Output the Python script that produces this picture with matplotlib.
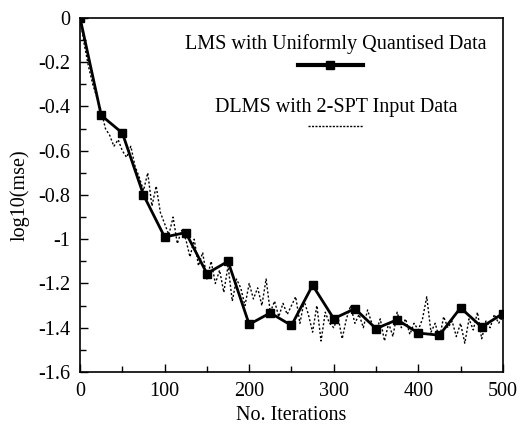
import matplotlib
matplotlib.use("Agg")
import matplotlib.pyplot as plt
from matplotlib.lines import Line2D
import numpy as np

plt.rcParams['font.family'] = ['Liberation Serif', 'DejaVu Serif']
plt.rcParams['font.size'] = 14

# LMS with uniformly quantised data (square markers)
lms_x = [0, 25, 50, 75, 100, 125, 150, 175, 200, 225, 250, 275, 300,
         325, 350, 375, 400, 425, 450, 475, 500]
lms_y = [0.0, -0.44, -0.52, -0.80, -0.99, -0.97, -1.155, -1.10, -1.385, -1.333,
         -1.39, -1.208, -1.359, -1.314, -1.404, -1.364, -1.424, -1.434, -1.31,
         -1.397, -1.336]

# DLMS with 2-SPT input data (noisy dotted)
dlms_x = list(range(0, 501, 5))
dlms_y = [0.0, -0.12, -0.22, -0.30, -0.36, -0.42, -0.50, -0.53, -0.58, -0.55,
          -0.60, -0.63, -0.58, -0.67, -0.72, -0.78, -0.70, -0.85, -0.76, -0.88,
          -0.93, -0.98, -0.90, -1.02, -0.96, -1.00, -1.08, -1.00, -1.12, -1.06,
          -1.18, -1.10, -1.20, -1.14, -1.24, -1.12, -1.28, -1.18, -1.22, -1.30,
          -1.20, -1.27, -1.22, -1.30, -1.18, -1.33, -1.28, -1.35, -1.29, -1.34,
          -1.30, -1.26, -1.38, -1.28, -1.34, -1.42, -1.30, -1.46, -1.33, -1.38,
          -1.40, -1.35, -1.45, -1.36, -1.30, -1.38, -1.34, -1.40, -1.32, -1.38,
          -1.42, -1.36, -1.46, -1.38, -1.44, -1.33, -1.40, -1.36, -1.43, -1.38,
          -1.41, -1.36, -1.26, -1.42, -1.38, -1.45, -1.35, -1.40, -1.37, -1.44,
          -1.38, -1.47, -1.36, -1.41, -1.33, -1.45, -1.37, -1.40, -1.34, -1.38,
          -1.35]

legend_labels = ["LMS with Uniformly Quantised Data", "DLMS with 2-SPT Input Data"]

fig = plt.figure(figsize=(5.2, 4.29), dpi=100)
ax = fig.add_axes([0.154, 0.133, 0.813, 0.825])

ax.plot(dlms_x, dlms_y, color='black', linestyle=(0, (1.5, 1.5)), linewidth=1.0)
ax.plot(lms_x, lms_y, color='black', linewidth=2.0, marker='s', markersize=5.5)

ax.set_xlim(0, 500)
ax.set_ylim(-1.6, 0)
ax.set_xticks([0, 100, 200, 300, 400, 500])
ax.set_xticks([50, 150, 250, 350, 450], minor=True)
ax.set_yticks(np.round(np.arange(-1.6, 0.01, 0.2), 1))
ax.set_yticks(np.round(np.arange(-1.5, 0.0, 0.2), 1), minor=True)
ax.set_yticklabels(['-1.6', '-1.4', '-1.2', '-1', '-0.8', '-0.6', '-0.4', '-0.2', '0'])
ax.tick_params(which='both', direction='in', top=False, right=False, labelsize=14.5)
ax.tick_params(axis='x', which='major', pad=7)
ax.tick_params(axis='y', which='major', pad=7)
ax.tick_params(which='major', length=6, width=1)
ax.tick_params(which='minor', length=4, width=1)
for s in ax.spines.values():
    s.set_linewidth(1.2)

ax.set_xlabel("No. Iterations", fontsize=14.5, labelpad=4)
ax.set_ylabel("log10(mse)", fontsize=14.5, labelpad=6)

# legend drawn as text + sample lines
ax.text(0.605, 0.927, legend_labels[0], transform=ax.transAxes, ha='center',
        va='center', fontsize=14.5)
ax.add_line(Line2D([0.515, 0.592, 0.669], [0.867, 0.867, 0.867], transform=ax.transAxes,
                   color='black', linewidth=3, marker='s', markersize=5.5, markevery=[1]))
ax.text(0.605, 0.748, legend_labels[1], transform=ax.transAxes, ha='center',
        va='center', fontsize=14.5)
ax.add_line(Line2D([0.539, 0.669], [0.695, 0.695], transform=ax.transAxes,
                   color='black', linewidth=1, linestyle=(0, (1.5, 1.0))))

fig.savefig("out.png", dpi=100)
